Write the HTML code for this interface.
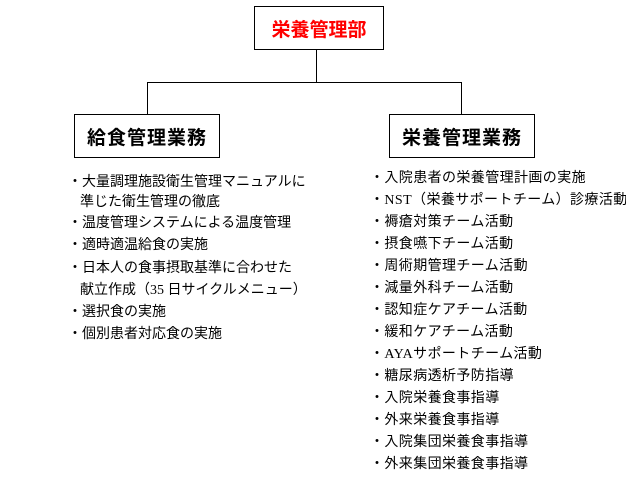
<!DOCTYPE html>
<html><head><meta charset="utf-8"><style>
body{margin:0;width:626px;height:489px;background:#fff;position:relative;overflow:hidden;font-family:"Liberation Serif","Noto Sans CJK JP",sans-serif;}
.box{position:absolute;border:1px solid #000;box-sizing:border-box;display:flex;align-items:center;justify-content:center;font-weight:bold;font-family:"Liberation Sans","Noto Sans CJK JP",sans-serif;}
.l{position:absolute;background:#000;}
.t{position:absolute;font-size:14px;line-height:16px;white-space:nowrap;color:#000;}
.r{letter-spacing:0.4px}
</style></head><body>
<div class="box" style="left:254px;top:6px;width:130px;height:44px;color:#f00;font-size:19px;">栄養管理部</div>
<div class="l" style="left:316px;top:50px;width:1px;height:33px"></div>
<div class="l" style="left:147px;top:82px;width:315px;height:1px"></div>
<div class="l" style="left:147px;top:82px;width:1px;height:32px"></div>
<div class="l" style="left:461px;top:82px;width:1px;height:32px"></div>
<div class="box" style="left:74px;top:114px;width:146px;height:44px;font-size:19px;letter-spacing:1px">給食管理業務</div>
<div class="box" style="left:389px;top:114px;width:146px;height:44px;font-size:19px;letter-spacing:1px">栄養管理業務</div>

<div class="t" style="left:68px;top:175px">・大量調理施設衛生管理マニュアルに</div>
<div class="t" style="left:80px;top:195px">準じた衛生管理の徹底</div>
<div class="t" style="left:68px;top:216px">・温度管理システムによる温度管理</div>
<div class="t" style="left:68px;top:238px">・適時適温給食の実施</div>
<div class="t" style="left:68px;top:261px">・日本人の食事摂取基準に合わせた</div>
<div class="t" style="left:80px;top:283px">献立作成（35 日サイクルメニュー）</div>
<div class="t" style="left:68px;top:305px">・選択食の実施</div>
<div class="t" style="left:68px;top:327px">・個別患者対応食の実施</div>

<div class="t r" style="left:370px;top:171px">・入院患者の栄養管理計画の実施</div>
<div class="t r" style="left:370px;top:193px">・NST（栄養サポートチーム）診療活動</div>
<div class="t r" style="left:370px;top:215px">・褥瘡対策チーム活動</div>
<div class="t r" style="left:370px;top:237px">・摂食嚥下チーム活動</div>
<div class="t r" style="left:370px;top:259px">・周術期管理チーム活動</div>
<div class="t r" style="left:370px;top:281px">・減量外科チーム活動</div>
<div class="t r" style="left:370px;top:303px">・認知症ケアチーム活動</div>
<div class="t r" style="left:370px;top:325px">・緩和ケアチーム活動</div>
<div class="t r" style="left:370px;top:347px">・AYAサポートチーム活動</div>
<div class="t r" style="left:370px;top:369px">・糖尿病透析予防指導</div>
<div class="t r" style="left:370px;top:391px">・入院栄養食事指導</div>
<div class="t r" style="left:370px;top:413px">・外来栄養食事指導</div>
<div class="t r" style="left:370px;top:435px">・入院集団栄養食事指導</div>
<div class="t r" style="left:370px;top:457px">・外来集団栄養食事指導</div>
</body></html>
